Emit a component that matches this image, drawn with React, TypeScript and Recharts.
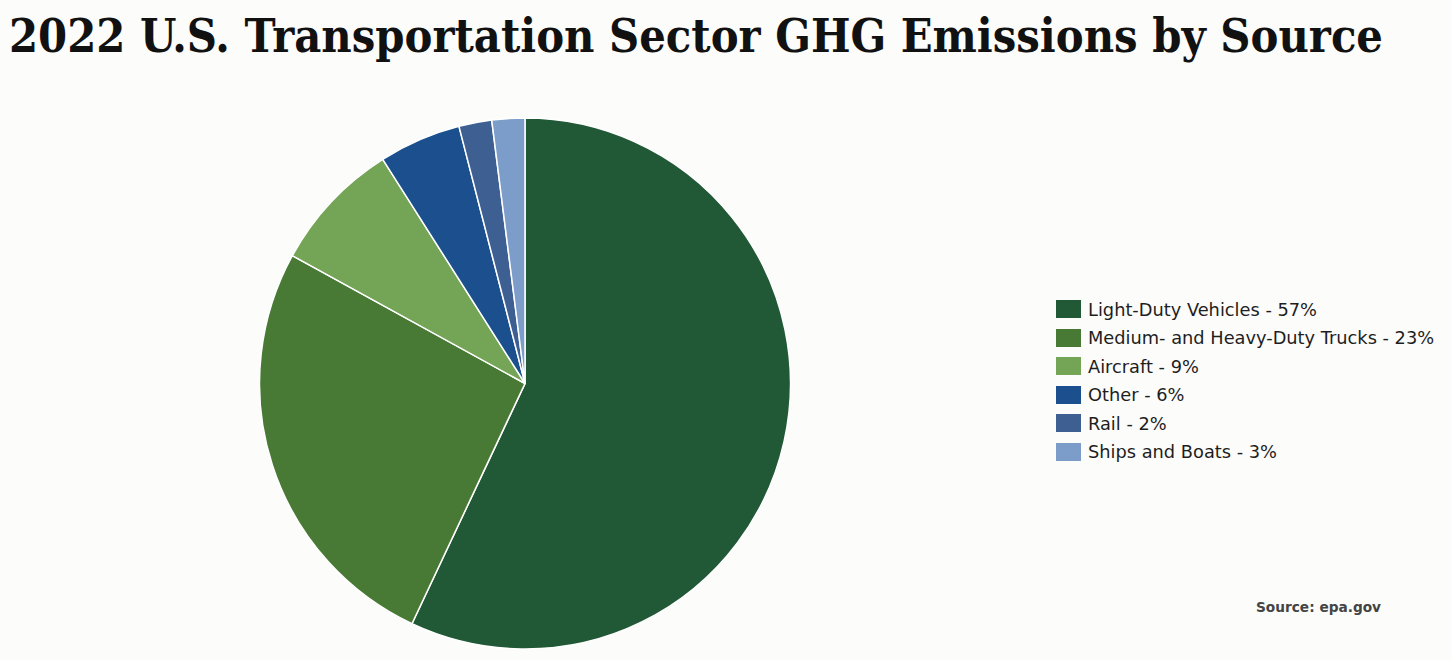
import { Cell, Legend, Pie, PieChart } from 'recharts';

const sources = [
  'Light-Duty Vehicles',
  'Medium- and Heavy-Duty Trucks',
  'Aircraft',
  'Other',
  'Rail',
  'Ships and Boats',
];
// slice sizes as drawn in the pie
const shares = [57, 26, 8, 5, 2, 2];
// percentages printed in the legend
const legendPct = ['57%', '23%', '9%', '6%', '2%', '3%'];
const colors = ['#215937', '#497a35', '#74a456', '#1b4f8d', '#3d5f92', '#7c9dca'];

const data = sources.map((s, i) => ({ name: `${s} - ${legendPct[i]}`, value: shares[i] }));

const LegendBox = () => (
  <div style={{ fontFamily: '"DejaVu Sans", sans-serif', fontSize: 17.8, color: '#1e1e1e' }}>
    {data.map((d, i) => (
      <div key={d.name} style={{ display: 'flex', alignItems: 'center', height: 28.5 }}>
        <span style={{ display: 'inline-block', width: 25, height: 18, background: colors[i], marginRight: 7 }} />
        <span>{d.name}</span>
      </div>
    ))}
  </div>
);

export default function App() {
  return (
    <div style={{ position: 'absolute', left: 0, top: 0, width: 1452, height: 660, background: '#fcfcfa', overflow: 'hidden' }}>
      <div
        style={{
          position: 'absolute',
          left: 9,
          top: 8,
          whiteSpace: 'nowrap',
          fontFamily: '"DejaVu Serif Condensed", "DejaVu Serif", serif',
          fontStretch: 'condensed',
          fontWeight: 'bold',
          fontSize: 46.5,
          lineHeight: '56px',
          color: '#111',
        }}
      >
        2022 U.S. Transportation Sector GHG Emissions by Source
      </div>
      <PieChart
        width={1452}
        height={660}
        margin={{ top: 0, right: 0, bottom: 0, left: 0 }}
        style={{ position: 'absolute', left: 0, top: 0 }}
      >
        <Pie
          data={data}
          dataKey="value"
          nameKey="name"
          cx={525}
          cy={383.5}
          outerRadius={265.5}
          startAngle={90}
          endAngle={-270}
          stroke="#ffffff"
          strokeWidth={1.5}
          isAnimationActive={false}
        >
          {data.map((d, i) => (
            <Cell key={d.name} fill={colors[i]} />
          ))}
        </Pie>
        <Legend
          layout="vertical"
          content={<LegendBox />}
          wrapperStyle={{ position: 'absolute', left: 1056, top: 295, width: 396 }}
        />
      </PieChart>
      <div
        style={{
          position: 'absolute',
          left: 1256,
          top: 599,
          fontFamily: '"DejaVu Sans", sans-serif',
          fontWeight: 'bold',
          fontSize: 13.7,
          color: '#444',
        }}
      >
        Source: epa.gov
      </div>
    </div>
  );
}
